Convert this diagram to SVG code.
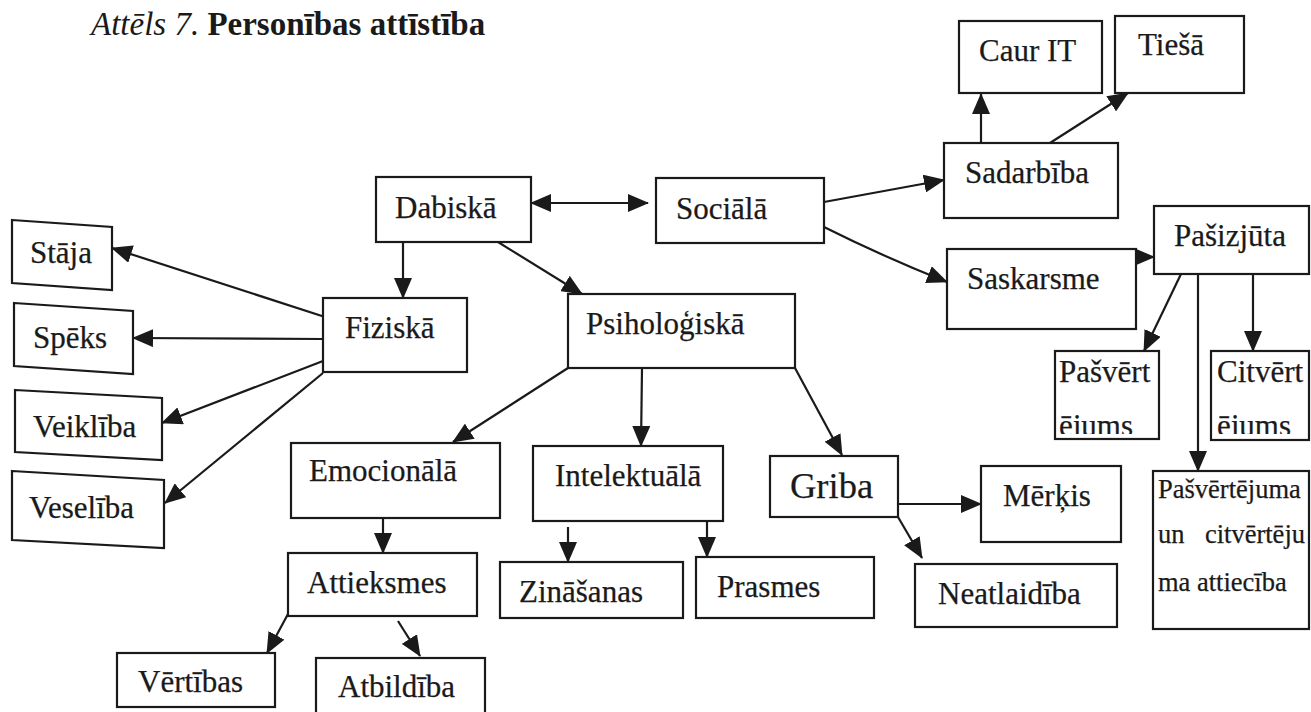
<svg xmlns="http://www.w3.org/2000/svg" width="1311" height="712" viewBox="0 0 1311 712">
  <style>
    .box { fill: #fff; stroke: #1a1a1a; stroke-width: 2.2; }
    .lbl { font-family: "Liberation Serif", "Times New Roman", serif; font-size: 31px; fill: #1a1a1a; stroke: #1a1a1a; stroke-width: 0.25; }
    .sm { font-size: 26.5px; }
    .big { font-size: 36.5px; }
    .title { font-family: "Liberation Serif", "Times New Roman", serif; font-size: 33px; fill: #1a1a1a; }
    .edge { fill: none; stroke: #1a1a1a; stroke-width: 2.2; marker-end: url(#ah); }
    .both { marker-start: url(#ah); }
  </style>
  <defs>
    <marker id="ah" markerUnits="userSpaceOnUse" markerWidth="21" markerHeight="18" refX="20" refY="9" orient="auto-start-reverse" viewBox="0 0 21 18">
      <path d="M0,0 L21,9 L0,18 z" fill="#1a1a1a"/>
    </marker>
    <!-- second line of the two narrow boxes is cut off by the box bottom -->
    <clipPath id="cutline">
      <rect x="1050" y="350" width="261" height="84"/>
    </clipPath>
  </defs>

  <rect width="1311" height="712" fill="#fff"/>

  <text class="title" x="91" y="35"><tspan font-style="italic">Attēls 7.</tspan> <tspan font-weight="bold">Personības attīstība</tspan></text>

  <!-- connectors -->
  <g id="connectors">
    <path class="edge" d="M981,143 L981,94"/>
    <path class="edge" d="M1050,143 L1128,93"/>
    <path class="edge" d="M824,202 L944,180"/>
    <path class="edge" d="M824,227 Q884,257 947,282"/>
    <path class="edge" d="M1134,257 L1154,257"/>
    <path class="edge both" d="M531,203 L648,203"/>
    <path class="edge" d="M403,242 L403,298"/>
    <path class="edge" d="M498,242 L582,294"/>
    <path class="edge" d="M325,317 L112,248"/>
    <path class="edge" d="M323,339 L133,338"/>
    <path class="edge" d="M323,361 L162,423"/>
    <path class="edge" d="M323,373 L165,503"/>
    <path class="edge" d="M568,368 L453,442"/>
    <path class="edge" d="M642,368 L641,446"/>
    <path class="edge" d="M795,368 L842,455"/>
    <path class="edge" d="M383,518 L383,553"/>
    <path class="edge" d="M568,527 L568,562"/>
    <path class="edge" d="M707,521 L707,557"/>
    <path class="edge" d="M898,504 L981,504"/>
    <path class="edge" d="M898,517 L922,558"/>
    <path class="edge" d="M288,614 L267,653"/>
    <path class="edge" d="M398,621 L420,656"/>
    <path class="edge" d="M1181,274 L1144,351"/>
    <path class="edge" d="M1253,274 L1253,351"/>
    <path class="edge" d="M1198,274 L1198,471"/>
  </g>

  <!-- nodes -->
  <g id="caur-it"><rect class="box" x="959" y="21" width="143" height="72"/><text class="lbl" x="979" y="61">Caur IT</text></g>
  <g id="tiesa"><rect class="box" x="1115" y="16" width="129" height="77"/><text class="lbl" x="1138" y="55">Tiešā</text></g>
  <g id="sadarbiba"><rect class="box" x="944" y="143" width="174" height="75"/><text class="lbl" x="965" y="183">Sadarbība</text></g>
  <g id="dabiska"><rect class="box" x="376" y="177" width="155" height="65"/><text class="lbl" x="395" y="218">Dabiskā</text></g>
  <g id="sociala"><rect class="box" x="656" y="178" width="168" height="65"/><text class="lbl" x="676" y="219">Sociālā</text></g>
  <g id="pasizjuta"><rect class="box" x="1154" y="206" width="155" height="68"/><text class="lbl" x="1174" y="246">Pašizjūta</text></g>
  <g id="saskarsme"><rect class="box" x="947" y="249" width="189" height="80"/><text class="lbl" x="967" y="289">Saskarsme</text></g>
  <g id="staja"><polygon class="box" points="12,220 112,227 112,290 12,283"/><text class="lbl" x="30" y="263">Stāja</text></g>
  <g id="speks"><polygon class="box" points="14,303 133,311 133,374 14,366"/><text class="lbl" x="33" y="348">Spēks</text></g>
  <g id="veikliba"><polygon class="box" points="15,390 162,398 162,460 15,452"/><text class="lbl" x="33" y="437">Veiklība</text></g>
  <g id="veseliba"><polygon class="box" points="12,471 164,480 164,548 12,540"/><text class="lbl" x="29" y="518">Veselība</text></g>
  <g id="fiziska"><rect class="box" x="323" y="298" width="144" height="74"/><text class="lbl" x="345" y="338">Fiziskā</text></g>
  <g id="psihologiska"><rect class="box" x="568" y="294" width="227" height="74"/><text class="lbl" x="586" y="334">Psiholoģiskā</text></g>
  <g id="pasvertejums"><rect class="box" x="1055" y="351" width="104" height="88"/><text class="lbl" x="1059" y="382">Pašvērt</text><text class="lbl" x="1059" y="436" clip-path="url(#cutline)">ējums</text></g>
  <g id="citvertejums"><rect class="box" x="1211" y="351" width="98" height="89"/><text class="lbl" x="1217" y="382">Citvērt</text><text class="lbl" x="1217" y="436" clip-path="url(#cutline)">ējums</text></g>
  <g id="emocionala"><rect class="box" x="291" y="443" width="209" height="75"/><text class="lbl" x="309" y="481">Emocionālā</text></g>
  <g id="intelektuala"><rect class="box" x="533" y="446" width="190" height="75"/><text class="lbl" x="555" y="486">Intelektuālā</text></g>
  <g id="griba"><rect class="box" x="770" y="456" width="128" height="61"/><text class="lbl big" x="790" y="498">Griba</text></g>
  <g id="merkis"><rect class="box" x="981" y="466" width="140" height="76"/><text class="lbl" x="1003" y="506">Mērķis</text></g>
  <g id="attieciba"><rect class="box" x="1153" y="471" width="156" height="158"/>
    <text class="lbl sm" x="1158" y="498">Pašvērtējuma</text>
    <text class="lbl sm" y="543"><tspan x="1158">un</tspan><tspan x="1305" text-anchor="end">citvērtēju</tspan></text>
    <text class="lbl sm" x="1158" y="591">ma attiecība</text>
  </g>
  <g id="attieksmes"><rect class="box" x="288" y="553" width="189" height="63"/><text class="lbl" x="307" y="593">Attieksmes</text></g>
  <g id="zinasanas"><rect class="box" x="500" y="562" width="183" height="56"/><text class="lbl" x="519" y="602">Zināšanas</text></g>
  <g id="prasmes"><rect class="box" x="696" y="557" width="178" height="61"/><text class="lbl" x="717" y="597">Prasmes</text></g>
  <g id="neatlaidiba"><rect class="box" x="915" y="564" width="202" height="63"/><text class="lbl" x="938" y="604">Neatlaidība</text></g>
  <g id="vertibas"><rect class="box" x="117" y="653" width="158" height="54"/><text class="lbl" x="138" y="692">Vērtības</text></g>
  <g id="atbildiba"><rect class="box" x="316" y="658" width="169" height="60"/><text class="lbl" x="338" y="697">Atbildība</text></g>
</svg>
